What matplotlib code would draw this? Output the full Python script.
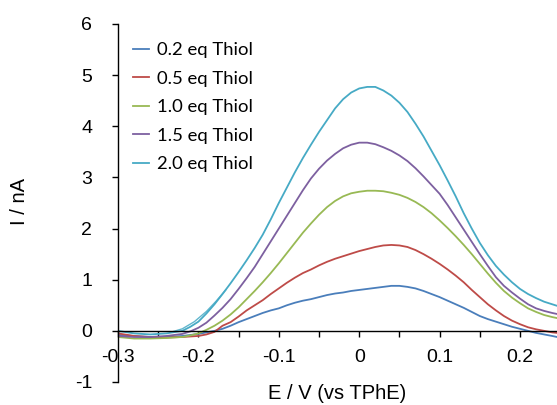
import matplotlib
matplotlib.use("Agg")
import matplotlib.pyplot as plt
from matplotlib.ticker import MultipleLocator, FixedLocator

# ---- data ----
potential = [-0.30, -0.28, -0.26, -0.24, -0.22, -0.21, -0.20, -0.19, -0.18, -0.17,
             -0.16, -0.15, -0.14, -0.13, -0.12, -0.11, -0.10, -0.09, -0.08, -0.07,
             -0.06, -0.05, -0.04, -0.03, -0.02, -0.01, 0.00, 0.01, 0.02, 0.03,
             0.04, 0.05, 0.06, 0.07, 0.08, 0.09, 0.10, 0.11, 0.12, 0.13,
             0.14, 0.15, 0.16, 0.17, 0.18, 0.19, 0.20, 0.21, 0.22, 0.23,
             0.24, 0.246]

i_02 = [-0.08, -0.10, -0.12, -0.12, -0.10, -0.08, -0.06, -0.03, 0.00, 0.04,
        0.10, 0.17, 0.23, 0.29, 0.35, 0.40, 0.44, 0.50, 0.55, 0.59,
        0.62, 0.66, 0.70, 0.73, 0.75, 0.78, 0.80, 0.82, 0.84, 0.86,
        0.88, 0.88, 0.86, 0.83, 0.78, 0.72, 0.66, 0.59, 0.52, 0.45,
        0.37, 0.29, 0.23, 0.18, 0.13, 0.08, 0.04, 0.00, -0.04, -0.07,
        -0.10, -0.12]
i_05 = [-0.05, -0.10, -0.12, -0.13, -0.12, -0.11, -0.10, -0.07, -0.02, 0.10,
        0.17, 0.28, 0.40, 0.50, 0.60, 0.72, 0.83, 0.94, 1.04, 1.13,
        1.20, 1.28, 1.35, 1.41, 1.46, 1.51, 1.56, 1.60, 1.64, 1.67,
        1.68, 1.67, 1.64, 1.58, 1.50, 1.41, 1.31, 1.20, 1.08, 0.95,
        0.80, 0.66, 0.52, 0.40, 0.29, 0.20, 0.13, 0.07, 0.03, 0.00,
        -0.03, -0.04]
i_10 = [-0.12, -0.15, -0.15, -0.14, -0.12, -0.09, -0.05, 0.02, 0.10, 0.20,
        0.32, 0.46, 0.62, 0.78, 0.95, 1.13, 1.32, 1.52, 1.72, 1.92,
        2.10, 2.27, 2.42, 2.54, 2.63, 2.69, 2.72, 2.74, 2.74, 2.73,
        2.70, 2.66, 2.60, 2.52, 2.42, 2.30, 2.16, 2.01, 1.85, 1.68,
        1.50, 1.31, 1.12, 0.94, 0.78, 0.65, 0.54, 0.44, 0.37, 0.31,
        0.27, 0.25]
i_15 = [-0.10, -0.12, -0.12, -0.10, -0.06, -0.01, 0.06, 0.16, 0.30, 0.45,
        0.62, 0.82, 1.03, 1.25, 1.50, 1.75, 2.00, 2.25, 2.50, 2.75,
        2.98, 3.17, 3.33, 3.46, 3.57, 3.64, 3.68, 3.68, 3.65, 3.59,
        3.52, 3.43, 3.32, 3.18, 3.02, 2.85, 2.68, 2.46, 2.22, 1.98,
        1.74, 1.50, 1.27, 1.05, 0.88, 0.75, 0.63, 0.52, 0.44, 0.39,
        0.35, 0.33]
i_20 = [0.00, -0.05, -0.07, -0.05, 0.00, 0.08, 0.18, 0.34, 0.52, 0.72,
        0.93, 1.15, 1.38, 1.62, 1.88, 2.18, 2.50, 2.80, 3.10, 3.38,
        3.64, 3.89, 4.12, 4.35, 4.53, 4.66, 4.74, 4.77, 4.77, 4.70,
        4.60, 4.46, 4.28, 4.05, 3.80, 3.52, 3.24, 2.94, 2.63, 2.30,
        2.00, 1.72, 1.48, 1.27, 1.10, 0.95, 0.82, 0.72, 0.64, 0.57,
        0.52, 0.49]

# short extra trace of the 2.0 eq scan (start of sweep), visible near -0.2 V
potential_20_start = [-0.235, -0.22, -0.205, -0.19, -0.178, -0.166]
i_20_start = [-0.03, 0.04, 0.18, 0.38, 0.58, 0.80]

series_labels = ["0.2 eq Thiol", "0.5 eq Thiol", "1.0 eq Thiol", "1.5 eq Thiol", "2.0 eq Thiol"]
series_values = [i_02, i_05, i_10, i_15, i_20]
colors = ["#4A7EBB", "#BE4B48", "#98B954", "#7D60A0", "#46AAC5"]

x_ticks = [-0.3, -0.2, -0.1, 0.0, 0.1, 0.2]
x_tick_labels = ["-0.3", "-0.2", "-0.1", "0", "0.1", "0.2"]
y_ticks = [-1, 0, 1, 2, 3, 4, 5, 6]
y_tick_labels = ["-1", "0", "1", "2", "3", "4", "5", "6"]

# ---- figure ----
W, H = 557, 405
fig = plt.figure(figsize=(W / 100, H / 100), dpi=100)
ax = fig.add_axes([118 / W, 1 - 382 / H, 1 - 118 / W, (382 - 24) / H])

for vals, lab, c in zip(series_values, series_labels, colors):
    ax.plot(potential, vals, color=c, lw=1.3, label=lab, solid_joinstyle="round")
ax.plot(potential_20_start, i_20_start, color=colors[4], lw=1.0, alpha=0.85)

ax.set_xlim(-0.3, 0.246)
ax.set_ylim(-1, 6)

ax.spines["top"].set_visible(False)
ax.spines["right"].set_visible(False)
ax.spines["bottom"].set_position(("data", 0))
for s in ("left", "bottom"):
    ax.spines[s].set_linewidth(1.0)
    ax.spines[s].set_color("black")

ax.xaxis.set_major_locator(FixedLocator(x_ticks))
ax.set_xticklabels(x_tick_labels)
ax.xaxis.set_minor_locator(MultipleLocator(0.05))
ax.yaxis.set_major_locator(FixedLocator(y_ticks))
ax.set_yticklabels(y_tick_labels)

ax.tick_params(axis="x", which="both", direction="out", length=4, width=1.0, pad=9)
ax.tick_params(axis="y", which="major", direction="out", length=4.5, width=1.0, pad=14)
for t in ax.get_xticklabels() + ax.get_yticklabels():
    t.set_fontfamily("Liberation Sans")
    t.set_fontsize(14)

ax.set_xlabel("E / V (vs TPhE)", fontfamily="Liberation Sans", fontsize=14.5, va="center")
ax.xaxis.set_label_coords(0.5, -0.031)
ax.set_ylabel("I / nA", fontfamily="Liberation Sans", fontsize=14.5, va="center", ha="center")
ax.yaxis.set_label_coords(-0.2255, 0.503)

leg = ax.legend(loc="upper left", bbox_to_anchor=(133 / W, 1 - 42 / H),
                bbox_transform=fig.transFigure, frameon=False,
                prop=dict(family="Lato", size=13.3), handlelength=0.85,
                handletextpad=0.45, labelspacing=0.68, borderpad=0, borderaxespad=0)

fig.savefig("out.png", dpi=100)
